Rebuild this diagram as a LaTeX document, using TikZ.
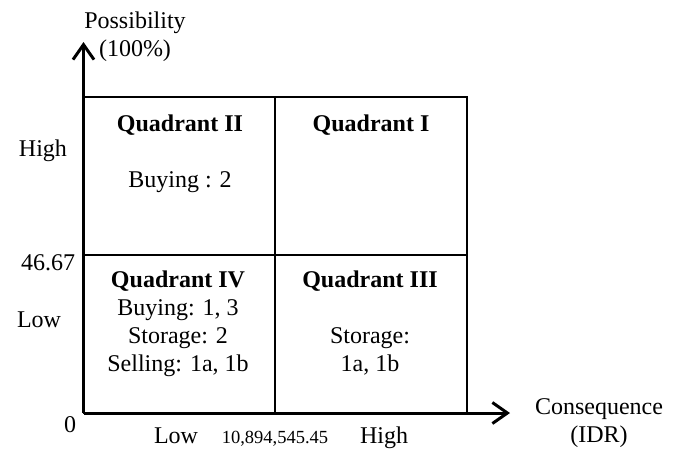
\documentclass[tikz,border=0pt]{standalone}
\usepackage{fontspec}
\setmainfont{Liberation Serif}
\usetikzlibrary{arrows.meta}
\tikzset{
    axis/.style={line width=3pt,-{Straight Barb[length=15pt,width=21pt]}},
    gridline/.style={line width=1.2pt},
    lbl/.style={font=\fontsize{24}{28}\selectfont,anchor=base,inner sep=0pt,align=center},
    quad/.style={lbl},
    small/.style={font=\fontsize{18.5}{22}\selectfont,anchor=base,inner sep=0pt}
}
\begin{document}
\begin{tikzpicture}[x=1pt,y=-1pt]
    \useasboundingbox (0,0) rectangle (680,451);
    \coordinate (O) at (83.5,413);
    \coordinate (ytop) at (83.5,42);
    \coordinate (xend) at (510,413);
    \coordinate (tl) at (83.5,97);
    \coordinate (br) at (467,413);
    % quadrant grid
    \draw[gridline] (tl) rectangle (br);
    \draw[gridline] (275,97) -- (275,413);
    \draw[gridline] (83.5,255) -- (467,255);
    % axes
    \draw[axis] (O) -- (ytop);
    \draw[axis] (O) -- (xend);
    % multi-line nodes sit on the baseline of their last line
    \node[lbl] (ylab) at (135,56) {Possibility\\(100\%)};
    \node[lbl] (xlab) at (599,442) {Consequence\\(IDR)};
    \node[lbl] (yhigh) at (43,156) {High};
    \node[lbl] (ylow) at (39,327) {Low};
    \node[lbl] (ymid) at (48,270) {46.67};
    \node[lbl] (zero) at (70,432) {0};
    \node[lbl] (xlow) at (176,443) {Low};
    \node[lbl] (xhigh) at (384,443) {High};
    \node[small] (xmid) at (275,443) {10,894,545.45};
    \node[quad] (q2) at (180,187) {\textbf{Quadrant II}\\[28pt]Buying : 2};
    \node[quad] (q1) at (371,131) {\textbf{Quadrant I}};
    \node[quad] (q4) at (178,371) {\textbf{Quadrant IV}\\Buying: 1, 3\\Storage: 2\\Selling: 1a, 1b};
    \node[quad] (q3) at (370,371) {\textbf{Quadrant III}\\[28pt]Storage:\\1a, 1b};
\end{tikzpicture}
\end{document}
